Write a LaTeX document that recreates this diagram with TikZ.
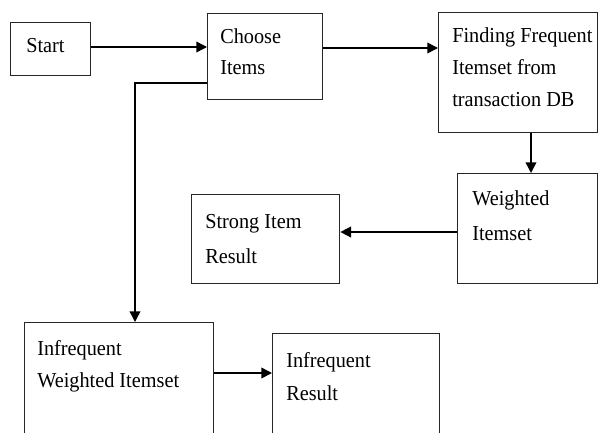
\documentclass[tikz,border=0pt]{standalone}
\usepackage{fontspec}
\setmainfont[FakeStretch=0.95]{Liberation Serif}
\usetikzlibrary{arrows.meta}
\begin{document}
\begin{tikzpicture}[x=0.75pt,y=-0.75pt,
  box/.style={draw=black!85,line width=1pt,inner sep=0pt,anchor=north west},
  lbl/.style={anchor=base west,inner sep=0pt,font=\fontsize{16}{18}\selectfont},
  arr/.style={draw=black,line width=1.1pt,-{Triangle[length=8pt,width=8pt]}},
  ln/.style={draw=black,line width=1.1pt}]
\clip (0,0) rectangle (598,432);
\fill[white] (0,0) rectangle (598,432);
% boxes
\node[box,minimum width=60pt,minimum height=39.75pt] (start) at (10,22) {};
\node[box,minimum width=86.25pt,minimum height=64.5pt] (choose) at (207,13) {};
\node[box,minimum width=119.25pt,minimum height=90pt] (finding) at (438,12) {};
\node[box,minimum width=105pt,minimum height=82.5pt] (weighted) at (457,173) {};
\node[box,minimum width=111pt,minimum height=66.75pt] (strong) at (191,194) {};
\node[box,minimum width=141.75pt,minimum height=90pt] (infw) at (24,322) {};
\node[box,minimum width=125.25pt,minimum height=80pt] (infr) at (272,333) {};
% labels
\node[lbl] (t1) at (26,52) {Start};
\node[lbl] (t2) at (220,43) {Choose};
\node[lbl] (t3) at (220,74) {Items};
\node[lbl] (t4) at (452,42) {Finding Frequent};
\node[lbl] (t5) at (452,74) {Itemset from};
\node[lbl] (t6) at (452,106) {transaction DB};
\node[lbl] (t7) at (472,205) {Weighted};
\node[lbl] (t8) at (472,240) {Itemset};
\node[lbl] (t9) at (205,228) {Strong Item};
\node[lbl] (t10) at (205,263) {Result};
\node[lbl] (t11) at (37,355) {Infrequent};
\node[lbl] (t12) at (37,387) {Weighted Itemset};
\node[lbl] (t13) at (286,367) {Infrequent};
\node[lbl] (t14) at (286,400) {Result};
% helper coordinates
\coordinate (ya) at (0,47);
\coordinate (yb) at (0,48);
\coordinate (xc) at (531,0);
\coordinate (yd) at (0,232);
\coordinate (ye) at (0,83);
\coordinate (xe) at (135,0);
\coordinate (yf) at (0,373);
% connectors
\draw[arr] (start.east |- ya) -- (choose.west |- ya);
\draw[arr] (choose.east |- yb) -- (finding.west |- yb);
\draw[arr] (finding.south -| xc) -- (weighted.north -| xc);
\draw[arr] (weighted.west |- yd) -- (strong.east |- yd);
\draw[arr] (choose.west |- ye) -| (infw.north -| xe);
\draw[arr] (infw.east |- yf) -- (infr.west |- yf);
\end{tikzpicture}
\end{document}
